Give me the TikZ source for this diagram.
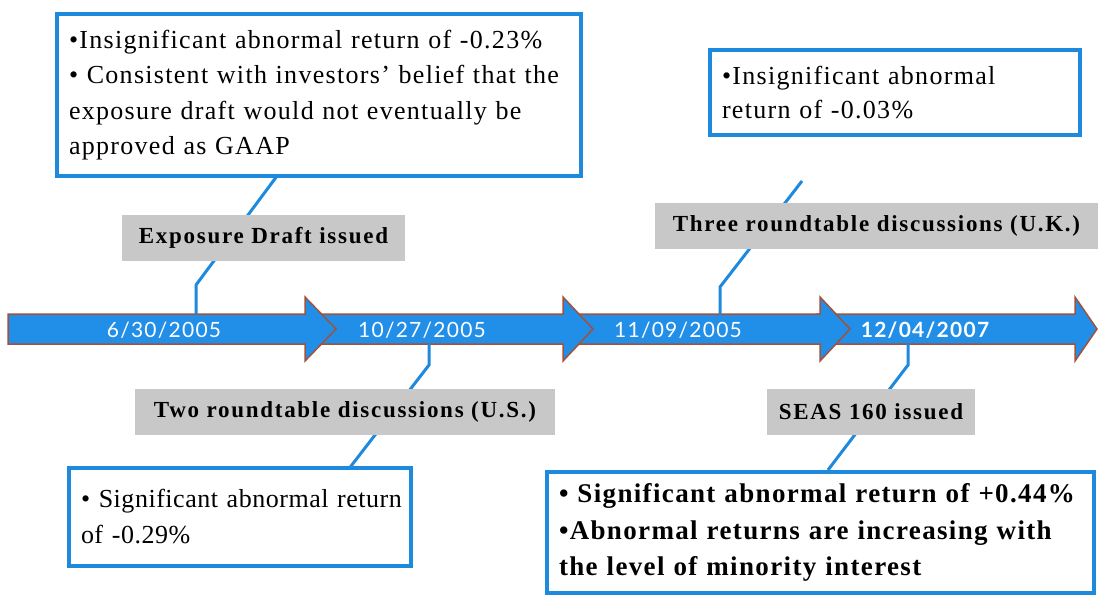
\documentclass[tikz,border=0pt]{standalone}
\usepackage{fontspec}
\setmainfont{Liberation Serif}
\newfontfamily\datefont[LetterSpace=6]{Lato}
\newfontfamily\boxfont[LetterSpace=5]{Liberation Serif}
\newfontfamily\boxfontc[LetterSpace=2]{Liberation Serif}
\newfontfamily\lblfont[LetterSpace=7.5]{Liberation Serif}
\definecolor{arrowblue}{RGB}{33,142,232}
\definecolor{arrowedge}{RGB}{160,82,60}
\definecolor{boxblue}{RGB}{30,138,222}
\definecolor{lblgray}{RGB}{200,200,200}
\begin{document}
\begin{tikzpicture}[x=1pt,y=-1pt,
  arrowshape/.style={fill=arrowblue, draw=arrowedge, line width=1.5pt, line join=miter},
  datelbl/.style={text=white, font=\datefont\fontsize{21}{24}\selectfont, inner sep=0pt},
  evt/.style={fill=lblgray, font=\lblfont\bfseries\fontsize{23}{26}\selectfont, inner sep=0pt, minimum height=46pt},
  infobox/.style={draw=boxblue, line width=4pt, fill=white, align=left, inner xsep=12pt, inner ysep=0pt, outer sep=0pt},
  conn/.style={draw=boxblue, line width=3pt}]
\useasboundingbox (0,0) rectangle (1098,597);
\fill[white] (0,0) rectangle (1098,597);
% timeline arrows (drawn right to left so each head overlaps the next body)
\draw[arrowshape] (817,314) -- (1075,314) -- (1075,297) -- (1097,329) -- (1075,361) -- (1075,344) -- (817,344) -- cycle;
\draw[arrowshape] (570,314) -- (820,314) -- (820,297) -- (850,329) -- (820,361) -- (820,344) -- (570,344) -- cycle;
\draw[arrowshape] (312,314) -- (563,314) -- (563,297) -- (593,329) -- (563,361) -- (563,344) -- (312,344) -- cycle;
\draw[arrowshape] (8,314) -- (305,314) -- (305,297) -- (336,329) -- (305,361) -- (305,344) -- (8,344) -- cycle;
% dates
\node[datelbl] (d1) at (164,330) {6/30/2005};
\node[datelbl] (d2) at (422,330) {10/27/2005};
\node[datelbl] (d3) at (678,330) {11/09/2005};
\node[datelbl, font=\datefont\bfseries\fontsize{21}{24}\selectfont] (d4) at (925,330) {12/04/2007};
% connector points
\coordinate (a1) at (196,314); \coordinate (b1) at (196,285); \coordinate (e1) at (277,176);
\coordinate (a2) at (429,344); \coordinate (b2) at (429,365); \coordinate (e2) at (348,470);
\coordinate (a3) at (720,314); \coordinate (b3) at (720,287); \coordinate (e3) at (802,181);
\coordinate (a4) at (908,344); \coordinate (b4) at (908,365); \coordinate (e4) at (828,470);
\draw[conn] (a1) -- (b1) -- (e1);
\draw[conn] (a2) -- (b2) -- (e2);
\draw[conn] (a3) -- (b3) -- (e3);
\draw[conn] (a4) -- (b4) -- (e4);
% boxes
\node[infobox, minimum width=524pt, minimum height=162pt, text width=500pt,
      font=\boxfont\fontsize{26}{35.5}\selectfont] (boxA) at (319,95)
  {\mbox{•Insignificant abnormal return of -0.23\%}\\
   \mbox{• Consistent with investors’ belief that the}\\
   \mbox{exposure draft would not eventually be}\\
   \mbox{approved as GAAP}};
\node[infobox, minimum width=370pt, minimum height=85pt, text width=346pt,
      font=\boxfont\fontsize{26}{34.5}\selectfont] (boxB) at (895,92.5)
  {\mbox{•Insignificant abnormal}\\ \mbox{return of -0.03\%}};
\node[infobox, minimum width=342pt, minimum height=98pt, text width=318pt,
      font=\boxfontc\fontsize{26}{36}\selectfont] (boxC) at (240,517)
  {\mbox{• Significant abnormal return}\\ \mbox{of -0.29\%}};
\node[infobox, minimum width=547pt, minimum height=121pt, text width=523pt,
      font=\boxfont\bfseries\fontsize{27}{36.5}\selectfont] (boxD) at (820.5,532.5)
  {\mbox{• Significant abnormal return of +0.44\%}\\
   \mbox{•Abnormal returns are increasing with}\\
   \mbox{the level of minority interest}};
% event labels
\node[evt, minimum width=283pt] (l1) at (263.5,238) {Exposure Draft issued};
\node[evt, minimum width=443pt] (l2) at (876.5,226) {Three roundtable discussions (U.K.)};
\node[evt, minimum width=420pt] (l3) at (345,412) {Two roundtable discussions (U.S.)};
\node[evt, minimum width=208pt] (l4) at (871,412) {SEAS 160 issued};
\end{tikzpicture}
\end{document}
